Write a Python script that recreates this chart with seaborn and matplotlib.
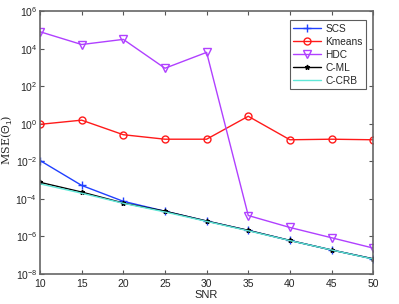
import matplotlib
matplotlib.use('Agg')
import matplotlib.pyplot as plt
import seaborn as sns
import pandas as pd

# %% values
snr = [10, 15, 20, 25, 30, 35, 40, 45, 50]
scs = [1.1e-2, 5.2e-4, 7.4e-5, 2.2e-5, 6.6e-6, 2.1e-6, 6.1e-7, 1.9e-7, 6.4e-8]
kmeans = [0.93, 1.55, 0.26, 0.15, 0.15, 2.5, 0.14, 0.15, 0.14]
hdc = [7.9e4, 1.65e4, 3.1e4, 9e2, 6.3e3, 1.3e-5, 3e-6, 8.5e-7, 2.4e-7]
c_ml = [7.6e-4, 2.3e-4, 6e-5, 2.2e-5, 6.6e-6, 2.1e-6, 6.1e-7, 1.9e-7, 6.4e-8]
c_crb = [6.3e-4, 2.0e-4, 5.8e-5, 2.0e-5, 6.3e-6, 2.0e-6, 6.0e-7, 1.9e-7, 6.2e-8]
yticks = [1e-8, 1e-6, 1e-4, 1e-2, 1e0, 1e2, 1e4, 1e6]

# %% style
sns.set_style('ticks')
plt.rcParams['font.family'] = ['Liberation Sans', 'DejaVu Sans']
plt.rcParams['mathtext.fontset'] = 'custom'
plt.rcParams['mathtext.rm'] = 'Liberation Sans'

fig = plt.figure(figsize=(3.99, 3.04), dpi=100)
ax = fig.add_axes([0.1003, 0.0987, 0.835, 0.865])

series = [
    ('SCS', scs, '#2040ff', '+', 5.5, 'none'),
    ('Kmeans', kmeans, '#ff1a1a', 'o', 5, 'none'),
    ('HDC', hdc, '#b040ff', 'v', 5.5, 'none'),
    ('C-ML', c_ml, 'black', '*', 3.5, 'black'),
    ('C-CRB', c_crb, '#60e8d8', None, 0, 'none'),
]
for name, vals, col, mk, ms, mfc in series:
    df = pd.DataFrame({'SNR': snr, 'MSE': vals})
    sns.lineplot(data=df, x='SNR', y='MSE', ax=ax, color=col, marker=mk,
                 markersize=ms, markerfacecolor=mfc, markeredgecolor=col,
                 markeredgewidth=1.0, linewidth=1.0, label=name)

ax.set_yscale('log')
ax.set_xlim(10, 50)
ax.set_ylim(1e-8, 1e6)
ax.set_xticks(snr)
ax.set_yticks(yticks)
ax.minorticks_off()
ax.tick_params(direction='in', top=True, right=True, labelsize=7.5, length=3,
               color='#555555', width=0.8, pad=2)
ax.tick_params(axis='x', pad=3.5)
for s in ax.spines.values():
    s.set_color('#666666')
    s.set_linewidth(1.2)

ax.set_xlabel('SNR', fontsize=8, labelpad=1)
ax.set_ylabel(r'MSE($\hat{\Theta}_1$)', fontsize=8, family='serif')
ax.yaxis.set_label_coords(-0.075, 0.51)

leg = ax.legend(loc='upper right', fontsize=7.3, frameon=True, fancybox=False,
                borderpad=0.35, labelspacing=0.3, handlelength=2.8,
                handletextpad=0.4, bbox_to_anchor=(0.995, 0.985))
leg.get_frame().set_edgecolor('#333333')
leg.get_frame().set_linewidth(0.8)

fig.savefig('out.png', dpi=100)
